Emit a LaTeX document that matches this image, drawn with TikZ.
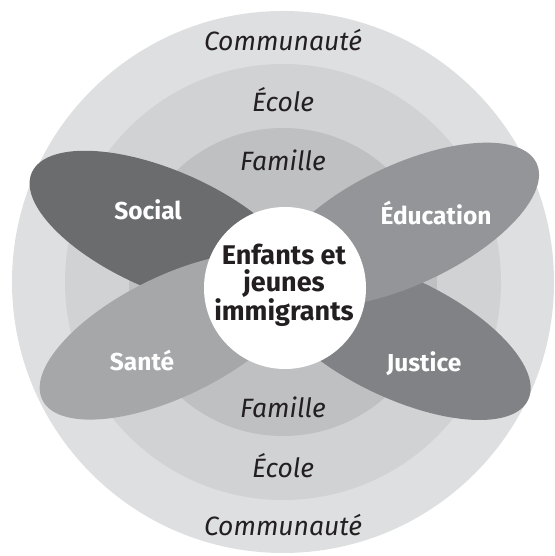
\documentclass[tikz,border=0pt]{standalone}
\usepackage{fontspec}
\setmainfont{Fira Sans}
\usetikzlibrary{calc}
\definecolor{ringC}{HTML}{DEDFE0}
\definecolor{ringE}{HTML}{D1D2D4}
\definecolor{ringF}{HTML}{BFC0C2}
\definecolor{pSocial}{HTML}{6B6C6E}
\definecolor{pEdu}{HTML}{949598}
\definecolor{pSante}{HTML}{A6A7A9}
\definecolor{pJustice}{HTML}{808285}
\definecolor{ink}{HTML}{231F20}
\tikzset{
  ringlabel/.style={font=\fontsize{26.5}{29}\selectfont\itshape, text=ink, inner sep=0pt},
  petallabel/.style={font=\fontsize{24.5}{27}\selectfont\bfseries, text=white, inner sep=0pt},
  corelabel/.style={font=\fontsize{27}{27.5}\selectfont\bfseries, text=ink, align=center, inner sep=0pt},
}
% petal: #1 angle, #2 tip distance, #3 colour
\newcommand{\drawpetal}[3]{%
  \begin{scope}[shift={(O)}, rotate=#1]
    \fill[#3] (#2-145,0) ellipse [x radius=145, y radius=60];
  \end{scope}}
\begin{document}
\begin{tikzpicture}[x=1pt, y=1pt]
  \useasboundingbox (0,0) rectangle (554,556);
  \coordinate (O) at (283,274);
  % nested circles: community, school, family
  \fill[ringC] (O) circle [radius=271];
  \fill[ringE] (O) circle [radius=218];
  \fill[ringF] (O) circle [radius=154];
  % the four sectors
  \drawpetal{156.5}{274}{pSocial}
  \drawpetal{-25.7}{272}{pJustice}
  \drawpetal{25.1}{280}{pEdu}
  \drawpetal{206.1}{268}{pSante}
  % centre
  \fill[white] (285,268) circle [radius=81];
  \node[corelabel] (core) at (284,271) {Enfants et\\jeunes\\immigrants};
  % ring labels
  \node[ringlabel] (c1) at (283,516) {Communauté};
  \node[ringlabel] (e1) at (283,456) {École};
  \node[ringlabel] (f1) at (283,396) {Famille};
  \node[ringlabel] (f2) at (283,149) {Famille};
  \node[ringlabel] (e2) at (283,90) {École};
  \node[ringlabel] (c2) at (283,31) {Communauté};
  % sector labels
  \node[petallabel] (social) at (148,346) {Social};
  \node[petallabel] (edu) at (436,343) {Éducation};
  \node[petallabel] (sante) at (142,196) {Santé};
  \node[petallabel] (justice) at (424,192) {Justice};
\end{tikzpicture}
\end{document}
